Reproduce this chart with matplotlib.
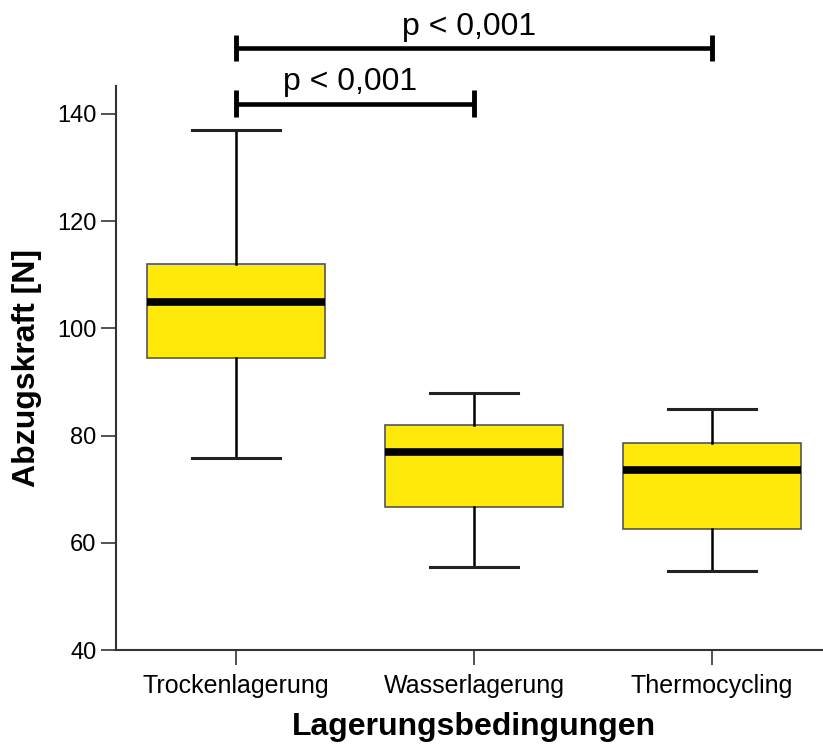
import matplotlib.pyplot as plt

# Data
categories = ['Trockenlagerung', 'Wasserlagerung', 'Thermocycling']
whislo = [75.8, 55.4, 54.8]
q1 = [94.4, 66.6, 62.5]
med = [104.9, 77.0, 73.5]
q3 = [112.0, 82.0, 78.7]
whishi = [137.0, 88.0, 85.0]

# significance brackets: (from category, to category, y level, label)
sig_pairs = [(0, 1, 141.9, 'p < 0,001'), (0, 2, 152.3, 'p < 0,001')]

plt.rcParams['font.family'] = ['Liberation Sans', 'DejaVu Sans']

fig = plt.figure(figsize=(8.23, 7.44), dpi=100)
ax = fig.add_axes([0.141, 0.1263, 0.859, 0.7581])

stats = []
for i in range(len(categories)):
    stats.append({'whislo': whislo[i], 'q1': q1[i], 'med': med[i],
                  'q3': q3[i], 'whishi': whishi[i], 'fliers': []})

pos = [1, 2, 3]
ax.bxp(stats, positions=pos, widths=0.75, patch_artist=True, showfliers=False,
       boxprops=dict(facecolor='#FFE90B', edgecolor='#555555', linewidth=1.2),
       medianprops=dict(color='black', linewidth=5.5, solid_capstyle='butt'),
       whiskerprops=dict(color='black', linewidth=1.8),
       capprops=dict(color='#222222', linewidth=2.2),
       capwidths=0.37)

ax.set_xlim(0.496, 3.466)
ax.set_ylim(40, 145.2)
ax.set_yticks([40, 60, 80, 100, 120, 140])
ax.set_xticks(pos)
ax.set_xticklabels(categories)

for s in ['top', 'right']:
    ax.spines[s].set_visible(False)
for s in ['left', 'bottom']:
    ax.spines[s].set_color('#333333')
    ax.spines[s].set_linewidth(1.5)
ax.tick_params(axis='both', length=11, width=1.2, color='#333333', pad=3)
ax.tick_params(axis='y', labelsize=17)
ax.tick_params(axis='x', labelsize=18, pad=6)

ax.set_ylabel('Abzugskraft [N]', fontsize=23, fontweight='bold', va='center')
ax.yaxis.set_label_coords(-0.1259, 0.5)
ax.set_xlabel('Lagerungsbedingungen', fontsize=23, fontweight='bold',
              va='baseline')
ax.xaxis.set_label_coords(0.506, -0.1507)

# significance brackets above the boxes
for a, b, y, label in sig_pairs:
    x0, x1 = pos[a], pos[b]
    ax.plot([x0, x1], [y, y], color='black', linewidth=3.3, clip_on=False,
            solid_capstyle='butt')
    for x in (x0, x1):
        ax.plot([x, x], [y - 2.5, y + 2.5], color='black', linewidth=3.5,
                clip_on=False, solid_capstyle='butt')
    ax.text((x0 + x1) / 2 - 0.02, y + 2.5, label, ha='center', va='baseline',
            fontsize=23, clip_on=False)

fig.savefig('out.png', dpi=100)
